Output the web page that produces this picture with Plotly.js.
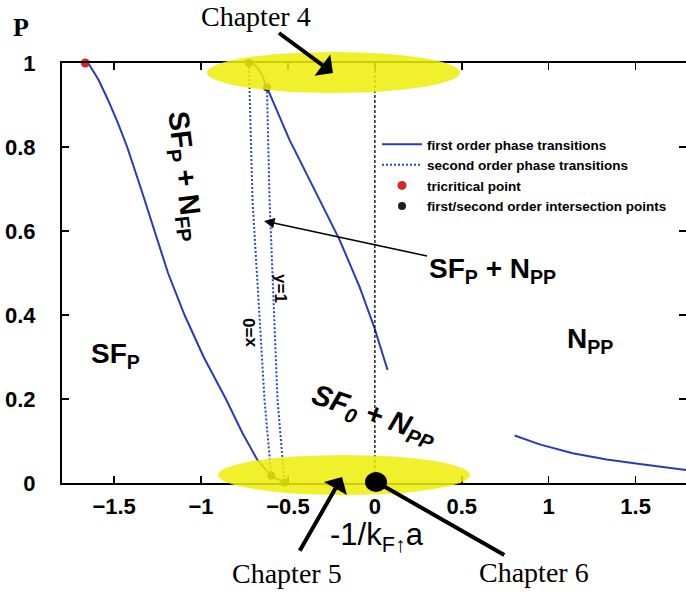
<!DOCTYPE html>
<html><head><meta charset="utf-8">
<script src="https://cdn.plot.ly/plotly-3.0.1.min.js"></script>
<style>html,body{margin:0;padding:0;overflow:hidden;background:#fff}</style>
</head><body><div id="chart" style="width:686px;height:594px"></div>
<script>
// ---- data ----
const firstOrderLeftX  = [-1.666,-1.642,-1.590,-1.535,-1.478,-1.425,-1.345,-1.268,-1.190,-1.095,-0.985,-0.857,-0.762,-0.676,-0.596,-0.520];
const firstOrderLeftY  = [1.000, 0.995, 0.960, 0.912, 0.857, 0.800, 0.700, 0.600, 0.500, 0.400, 0.300, 0.200, 0.119, 0.055, 0.017, 0.001];
const firstOrderMidX   = [-0.725,-0.700,-0.675,-0.652,-0.621,-0.491,-0.318,-0.203,-0.088,-0.002,0.073];
const firstOrderMidY   = [1.000, 0.998, 0.989, 0.974, 0.942, 0.817, 0.674, 0.579, 0.467, 0.369, 0.269];
const firstOrderRightX = [0.804, 0.948, 1.138, 1.334, 1.524, 1.790];
const firstOrderRightY = [0.113, 0.092, 0.071, 0.056, 0.045, 0.031];
const secondX0X = [-0.725,-0.704,-0.635,-0.596];
const secondX0Y = [1.000, 0.674, 0.198, 0.017];
const secondY1X = [-0.621,-0.606,-0.560,-0.520];
const secondY1Y = [0.942, 0.674, 0.198, 0.001];
const tricriticalX = [-1.666];
const tricriticalY = [1.0];
const intersectX = [-0.725,-0.621,-0.596,-0.520];
const intersectY = [1.000, 0.942, 0.017, 0.001];
const zeroLineX = [0, 0];
const zeroLineY = [0, 1];
const xTicks = [-1.5,-1,-0.5,0,0.5,1,1.5];
const yTicks = [0,0.2,0.4,0.6,0.8,1];
const legendNames = ['first order phase transitions','second order phase transitions','tricritical point','first/second order intersection points'];

// ---- layout geometry helpers (pixel -> paper coordinates for annotations) ----
const L=62, T=63, PW=624, PH=420, XMIN=-1.8, XMAX=1.79;
const py2y = py => (T+PH-py)/PH;
const px2p = px => (px-L)/PW;

const blue = 'rgb(40,60,180)';
const dotBlue = 'rgb(40,70,220)';
const SANS = 'Liberation Sans, Arial, sans-serif';
const SERIF = 'Liberation Serif, Times New Roman, serif';

function join(a, b){ return a.concat([null], b); }

const traces = [
  {x: join(join(firstOrderLeftX, firstOrderMidX), firstOrderRightX),
   y: join(join(firstOrderLeftY, firstOrderMidY), firstOrderRightY),
   mode:'lines', name: legendNames[0], line:{color: blue, width:2}, connectgaps:false},
  {x: join(secondX0X, secondY1X), y: join(secondX0Y, secondY1Y),
   mode:'lines', name: legendNames[1], line:{color: dotBlue, width:2, dash:'2px,2px'}, connectgaps:false},
  {x: zeroLineX, y: zeroLineY, mode:'lines', showlegend:false, line:{color:'black', width:1.3, dash:'3px,2px'}},
  {x: tricriticalX, y: tricriticalY, mode:'markers', name: legendNames[2], marker:{color:'rgb(210,40,40)', size:9}, cliponaxis:false},
  {x: intersectX, y: intersectY, mode:'markers', name: legendNames[3], marker:{color:'rgb(30,30,30)', size:8}, cliponaxis:false}
];

const bold = (s, f) => ({family: f||SANS, size: s, color:'black', weight:'bold'});
function ann(o){ return Object.assign({xref:'paper', yref:'paper', xanchor:'center', yanchor:'middle', showarrow:false}, o); }

const annotations = [
  ann({text:'P', x:px2p(21), y:py2y(27), font:bold(26, SERIF)}),
  ann({text:'Chapter 4', x:px2p(333), y:py2y(73), ax:-77, ay:-57, showarrow:true,
   arrowhead:1, arrowwidth:4, arrowsize:1.1, arrowcolor:'black', font:{family:SERIF, size:28, color:'black'}}),
  ann({text:'Chapter 5', x:px2p(342), y:py2y(477), ax:-55, ay:96, showarrow:true, startstandoff:6,
   arrowhead:1, arrowwidth:4, arrowsize:1.1, arrowcolor:'black', font:{family:SERIF, size:28, color:'black'}}),
  ann({text:'Chapter 6', x:px2p(380), y:py2y(484), ax:154, ay:88, showarrow:true,
   arrowhead:0, arrowwidth:4, arrowcolor:'black', font:{family:SERIF, size:28, color:'black'}}),
  ann({text:'SF<sub>P</sub> + N<sub>PP</sub>', x:px2p(264), y:py2y(221), ax:228, ay:49, showarrow:true,
   arrowhead:2, arrowwidth:1.5, arrowsize:1.4, arrowcolor:'black', font:bold(28)}),
  ann({text:'SF<sub>P</sub>', x:px2p(115), y:py2y(355), font:bold(28)}),
  ann({text:'SF<sub>P</sub> + N<sub>FP</sub>', x:px2p(184), y:py2y(176), textangle:83, font:bold(29)}),
  ann({text:'N<sub>PP</sub>', x:px2p(590), y:py2y(340), font:bold(28)}),
  ann({text:'<i>SF<sub>0</sub> + N<sub>PP</sub></i>', x:px2p(374), y:py2y(416), textangle:19, font:bold(29)}),
  ann({text:'x=0', x:px2p(249), y:py2y(333), textangle:-90, font:bold(17)}),
  ann({text:'y=1', x:px2p(281), y:py2y(288), textangle:90, font:bold(17)}),
  ann({text:'-1/k<sub>F↑</sub>a', x:px2p(377), y:py2y(537), font:{family:SANS, size:31, color:'black'}})
];

const shapes = [
  {type:'circle', xref:'paper', yref:'paper', x0:px2p(207), x1:px2p(460), y0:py2y(93), y1:py2y(52),
   fillcolor:'rgb(238,238,10)', opacity:0.86, line:{width:0}, layer:'above'},
  {type:'circle', xref:'paper', yref:'paper', x0:px2p(218), x1:px2p(470), y0:py2y(495), y1:py2y(455),
   fillcolor:'rgb(238,238,10)', opacity:0.86, line:{width:0}, layer:'above'},
  {type:'circle', xref:'paper', yref:'paper', x0:px2p(365), x1:px2p(387), y0:py2y(492), y1:py2y(472),
   fillcolor:'black', line:{width:0}, layer:'above'}
];

const axisCommon = {showline:true, linecolor:'black', linewidth:2, mirror:'ticks', ticks:'inside',
  ticklen:7, tickwidth:1.5, tickcolor:'black', showgrid:false, zeroline:false,
  tickfont:bold(22)};

const layout = {
  width:686, height:594, autosize:false,
  margin:{l:L, r:686-L-PW, t:T, b:594-T-PH, pad:0},
  paper_bgcolor:'white', plot_bgcolor:'white',
  xaxis: Object.assign({}, axisCommon, {range:[XMIN, XMAX], tickvals:xTicks, ticklabelstandoff:3}),
  yaxis: Object.assign({}, axisCommon, {range:[0,1], tickvals:yTicks, ticklabelstandoff:20}),
  showlegend:true,
  legend:{x:px2p(377), y:py2y(129), xanchor:'left', yanchor:'top', bgcolor:'rgba(0,0,0,0)',
    font:{family:SANS, size:13.5, color:'black', weight:'bold'}, tracegroupgap:0, itemwidth:40},
  annotations: annotations,
  shapes: shapes
};

Plotly.newPlot('chart', traces, layout, {displayModeBar:false, staticPlot:true});
</script>
</body></html>
